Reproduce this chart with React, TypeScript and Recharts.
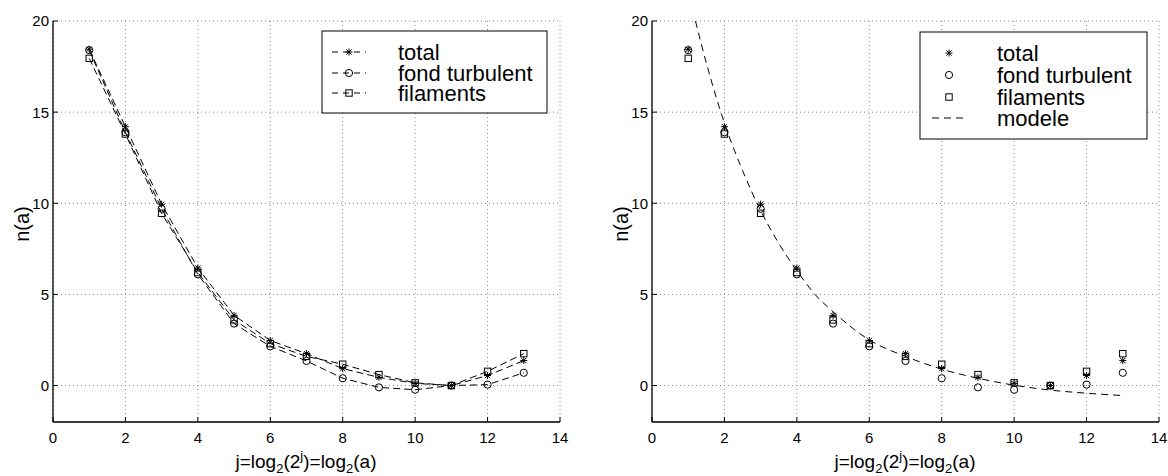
import React from 'react'
import { ComposedChart, Line, Scatter, XAxis, YAxis, CartesianGrid } from 'recharts'

// échelles j = 1..13
const jVals = [1, 2, 3, 4, 5, 6, 7, 8, 9, 10, 11, 12, 13]
const total = [18.45, 14.2, 9.95, 6.45, 3.85, 2.47, 1.75, 0.93, 0.45, 0.12, 0.0, 0.55, 1.37]
const fond = [18.4, 13.9, 9.7, 6.1, 3.4, 2.15, 1.35, 0.4, -0.1, -0.23, 0.0, 0.05, 0.7]
const filaments = [17.95, 13.8, 9.45, 6.2, 3.6, 2.3, 1.6, 1.17, 0.6, 0.15, 0.0, 0.78, 1.75]

// courbe du modele
const modeleJ = [1.2, 1.5, 2, 2.5, 3, 3.5, 4, 4.5, 5, 6, 7, 8, 9, 10, 11, 12, 13]
const modeleN = [20, 17.7, 14.4, 11.8, 9.6, 7.8, 6.3, 5.0, 4.05, 2.5, 1.6, 0.9, 0.4, 0.02, -0.25, -0.42, -0.55]

const xTicks = [0, 2, 4, 6, 8, 10, 12, 14]
const yTicks = [0, 5, 10, 15, 20]

const rows = jVals.map((j, i) => ({ j, total: total[i], fond: fond[i], fil: filaments[i] }))
const modeleRows = modeleJ.map((j, i) => ({ j, n: modeleN[i] }))

const font = '"Liberation Sans", Arial, Helvetica, sans-serif'

function Star({ cx, cy }: { cx: number; cy: number }) {
  const s = 3.5, d = 2.6
  return (
    <g stroke="#000" strokeWidth={1}>
      <line x1={cx - s} x2={cx + s} y1={cy} y2={cy} />
      <line x1={cx} x2={cx} y1={cy - s} y2={cy + s} />
      <line x1={cx - d} x2={cx + d} y1={cy - d} y2={cy + d} />
      <line x1={cx - d} x2={cx + d} y1={cy + d} y2={cy - d} />
    </g>
  )
}
const Circle = ({ cx, cy }: { cx: number; cy: number }) =>
  <circle cx={cx} cy={cy} r={3.6} fill="none" stroke="#000" strokeWidth={1} />
const Square = ({ cx, cy }: { cx: number; cy: number }) =>
  <rect x={cx - 3.2} y={cy - 3.2} width={6.4} height={6.4} fill="none" stroke="#000" strokeWidth={1} />

const starDot = (p: any) => <Star key={`s${p.index}`} cx={p.cx} cy={p.cy} />
const circleDot = (p: any) => <Circle key={`c${p.index}`} cx={p.cx} cy={p.cy} />
const squareDot = (p: any) => <Square key={`q${p.index}`} cx={p.cx} cy={p.cy} />

const BottomTick = (p: any) => (
  <g>
    <line x1={p.x} x2={p.x} y1={p.y} y2={p.y - 5} stroke="#000" />
    <text x={p.x} y={p.y + 21} textAnchor="middle" fontSize={15} fontFamily={font} fill="#000">{p.payload.value}</text>
  </g>
)
const TopTick = (p: any) => <line x1={p.x} x2={p.x} y1={p.y} y2={p.y + 5} stroke="#000" />
const LeftTick = (p: any) => (
  <g>
    <line x1={p.x} x2={p.x + 5} y1={p.y} y2={p.y} stroke="#000" />
    <text x={p.x - 4} y={p.y} dy="0.36em" textAnchor="end" fontSize={15} fontFamily={font} fill="#000">{p.payload.value}</text>
  </g>
)
const RightTick = (p: any) => <line x1={p.x} x2={p.x - 5} y1={p.y} y2={p.y} stroke="#000" />

function Panel({ left, mLeft, mRight, children }: { left: number; mLeft: number; mRight: number; children: React.ReactNode }) {
  return (
    <div style={{ position: 'absolute', left, top: 0 }}>
      <ComposedChart width={580} height={476} margin={{ top: 21, right: mRight, bottom: 24, left: mLeft }}>
        <CartesianGrid stroke="#888" strokeDasharray="1 3" />
        <XAxis xAxisId="top" orientation="top" type="number" domain={[0, 14]} ticks={xTicks} interval={0}
          height={0} tickSize={0} tickMargin={0} tickLine={false} tick={TopTick} axisLine={{ stroke: '#000' }} />
        <XAxis dataKey="j" type="number" domain={[0, 14]} ticks={xTicks} interval={0} height={30}
          tickSize={0} tickMargin={0} tickLine={false} tick={BottomTick} axisLine={{ stroke: '#000', strokeWidth: 1.3 }} allowDataOverflow />
        <YAxis type="number" domain={[-2, 20]} ticks={yTicks} interval={0} width={53}
          tickSize={0} tickMargin={0} tickLine={false} tick={LeftTick} axisLine={{ stroke: '#000', strokeWidth: 1.3 }} allowDataOverflow />
        <YAxis yAxisId="right" orientation="right" type="number" domain={[-2, 20]} ticks={yTicks} interval={0} width={0}
          tickSize={0} tickMargin={0} tickLine={false} tick={RightTick} axisLine={{ stroke: '#000' }} />
        {children}
      </ComposedChart>
    </div>
  )
}

function XLabel({ cx }: { cx: number }) {
  return (
    <text x={cx} y={468} textAnchor="middle" fontSize={19} fontFamily={font} fill="#000">
      j=log<tspan dy={5} fontSize={13}>2</tspan><tspan dy={-5}>(2</tspan><tspan dy={-8} fontSize={13}>j</tspan>
      <tspan dy={8}>)=log</tspan><tspan dy={5} fontSize={13}>2</tspan><tspan dy={-5}>(a)</tspan>
    </text>
  )
}
function YLabel({ cx }: { cx: number }) {
  return (
    <text x={cx} y={224} transform={`rotate(-90 ${cx} 224)`} textAnchor="middle" dominantBaseline="central"
      fontSize={20} fontFamily={font} fill="#000">n(a)</text>
  )
}

function LegendText({ x, y, children }: { x: number; y: number; children: React.ReactNode }) {
  return <text x={x} y={y + 8} fontSize={22} fontFamily={font} fill="#000">{children}</text>
}

export default function App() {
  return (
    <div style={{ position: 'absolute', left: 0, top: 0, width: 1168, height: 476, background: '#fff', overflow: 'hidden' }}>
      <Panel left={0} mLeft={0} mRight={20}>
        <Line data={rows} dataKey="total" type="linear" stroke="#000" strokeWidth={1} strokeDasharray="7 4"
          dot={starDot} activeDot={false} isAnimationActive={false} />
        <Line data={rows} dataKey="fond" type="linear" stroke="#000" strokeWidth={1} strokeDasharray="7 4"
          dot={circleDot} activeDot={false} isAnimationActive={false} />
        <Line data={rows} dataKey="fil" type="linear" stroke="#000" strokeWidth={1} strokeDasharray="7 4"
          dot={squareDot} activeDot={false} isAnimationActive={false} />
      </Panel>
      <Panel left={588} mLeft={11} mRight={9}>
        <Line data={modeleRows} dataKey="n" type="monotone" stroke="#000" strokeWidth={1} strokeDasharray="7 5"
          dot={false} activeDot={false} isAnimationActive={false} />
        <Scatter data={rows} dataKey="total" shape={(p: any) => <Star cx={p.cx} cy={p.cy} />} isAnimationActive={false} />
        <Scatter data={rows} dataKey="fond" shape={(p: any) => <Circle cx={p.cx} cy={p.cy} />} isAnimationActive={false} />
        <Scatter data={rows} dataKey="fil" shape={(p: any) => <Square cx={p.cx} cy={p.cy} />} isAnimationActive={false} />
      </Panel>
      <svg width={1168} height={476} style={{ position: 'absolute', left: 0, top: 0, pointerEvents: 'none' }}>
        <YLabel cx={22} />
        <YLabel cx={621} />
        <XLabel cx={306} />
        <XLabel cx={905} />

        <rect x={322} y={31} width={225} height={82} fill="#fff" stroke="#000" />
        <line x1={332} x2={366} y1={52} y2={52} stroke="#000" strokeDasharray="6 5" />
        <Star cx={349} cy={52} />
        <LegendText x={398} y={52}>total</LegendText>
        <line x1={332} x2={366} y1={73} y2={73} stroke="#000" strokeDasharray="6 5" />
        <Circle cx={349} cy={73} />
        <LegendText x={398} y={73}>fond turbulent</LegendText>
        <line x1={332} x2={366} y1={93} y2={93} stroke="#000" strokeDasharray="6 5" />
        <Square cx={349} cy={93} />
        <LegendText x={398} y={93}>filaments</LegendText>

        <rect x={920} y={32} width={227} height={107} fill="#fff" stroke="#000" />
        <Star cx={949} cy={53} />
        <LegendText x={997} y={53}>total</LegendText>
        <Circle cx={949} cy={75} />
        <LegendText x={997} y={75}>fond turbulent</LegendText>
        <Square cx={949} cy={97} />
        <LegendText x={997} y={97}>filaments</LegendText>
        <line x1={932} x2={966} y1={118} y2={118} stroke="#000" strokeDasharray="7 5" />
        <LegendText x={997} y={118}>modele</LegendText>
      </svg>
    </div>
  )
}
